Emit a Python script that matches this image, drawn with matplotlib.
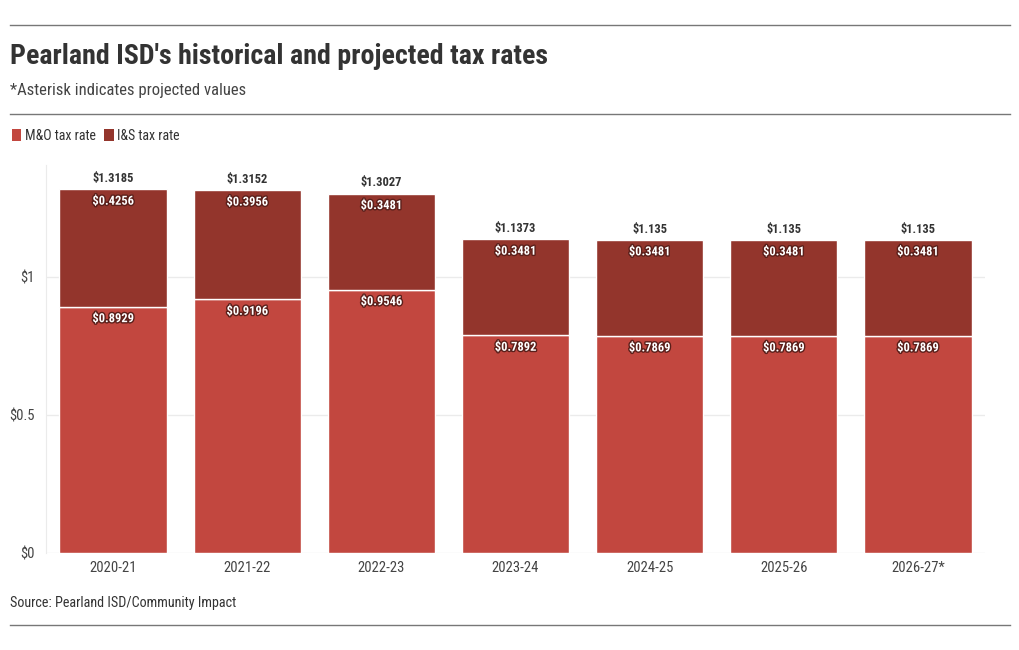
import matplotlib
matplotlib.use("Agg")
import matplotlib.pyplot as plt
import matplotlib.patheffects as pe
from matplotlib.patches import Patch
from matplotlib import font_manager

years = ["2020-21", "2021-22", "2022-23", "2023-24", "2024-25", "2025-26", "2026-27*"]
mo_rate = [0.8929, 0.9196, 0.9546, 0.7892, 0.7869, 0.7869, 0.7869]
is_rate = [0.4256, 0.3956, 0.3481, 0.3481, 0.3481, 0.3481, 0.3481]
y_ticks = [0, 0.5, 1]
y_tick_labels = ["$0", "$0.5", "$1"]

mo_color = "#c2473f"
is_color = "#93352c"

names = set(f.name for f in font_manager.fontManager.ttflist)
fam = "Roboto Condensed" if "Roboto Condensed" in names else "Roboto"
plt.rcParams["font.family"] = [fam, "DejaVu Sans"]

fig = plt.figure(figsize=(10.2, 6.5), dpi=100)
ax = fig.add_axes([46 / 1020, 1 - 553 / 650, (985 - 46) / 1020, (553 - 165) / 650])

x = list(range(len(years)))
ax.bar(x, mo_rate, width=0.8, color=mo_color, edgecolor="white", linewidth=1, zorder=2)
ax.bar(x, is_rate, width=0.8, bottom=mo_rate, color=is_color, edgecolor="white", linewidth=1, zorder=2)

shadow = [pe.withStroke(linewidth=2, foreground="#5a1f1a")]
for i in x:
    total = round(mo_rate[i] + is_rate[i], 4)
    ax.annotate(f"${total:g}", (i, total), xytext=(0, 3), textcoords="offset points",
                ha="center", va="bottom", fontsize=9, fontweight="bold", color="#333333")
    ax.annotate(f"${is_rate[i]:g}", (i, total), xytext=(0, -4), textcoords="offset points",
                ha="center", va="top", fontsize=9, fontweight="bold", color="white",
                path_effects=shadow)
    ax.annotate(f"${mo_rate[i]:g}", (i, mo_rate[i]), xytext=(0, -4), textcoords="offset points",
                ha="center", va="top", fontsize=9, fontweight="bold", color="white",
                path_effects=shadow)

ax.set_xlim(-0.5, 6.5)
ax.set_ylim(0, 1.406)
ax.set_yticks(y_ticks)
ax.set_yticklabels(y_tick_labels)
ax.set_xticks(x)
ax.set_xticklabels(years)
ax.tick_params(axis="both", length=0, labelsize=10.5, labelcolor="#444444")
ax.tick_params(axis="x", pad=6)
ax.tick_params(axis="y", pad=8)
ax.grid(axis="y", color="#ebebeb", linewidth=1, zorder=0)
for s in ["top", "right", "bottom"]:
    ax.spines[s].set_visible(False)
ax.spines["left"].set_color("#ebebeb")

# header and footer
fig.add_artist(plt.Line2D([10 / 1020, 1010 / 1020], [1 - 25 / 650] * 2, color="#777777", lw=1))
fig.add_artist(plt.Line2D([10 / 1020, 1010 / 1020], [1 - 114 / 650] * 2, color="#777777", lw=1))
fig.add_artist(plt.Line2D([10 / 1020, 1010 / 1020], [1 - 625 / 650] * 2, color="#777777", lw=1))
fig.text(10 / 1020, 1 - 57 / 650, "Pearland ISD's historical and projected tax rates",
         fontsize=20.2, fontweight="bold", color="#333333", va="center")
fig.text(10 / 1020, 1 - 90 / 650, "*Asterisk indicates projected values",
         fontsize=12, color="#444444", va="center")
fig.text(10 / 1020, 1 - 603 / 650, "Source: Pearland ISD/Community Impact",
         fontsize=10.2, color="#333333", va="center")

handles = [Patch(facecolor=mo_color, label="M&O tax rate"),
           Patch(facecolor=is_color, label="I&S tax rate")]
fig.legend(handles=handles, loc="center left", bbox_to_anchor=(-1 / 1020, 1 - 136 / 650),
           ncol=2, frameon=False, fontsize=10, handlelength=0.7, handleheight=1.0,
           handletextpad=0.25, columnspacing=0.6, labelcolor="#333333")

fig.savefig("out.png", dpi=100)
